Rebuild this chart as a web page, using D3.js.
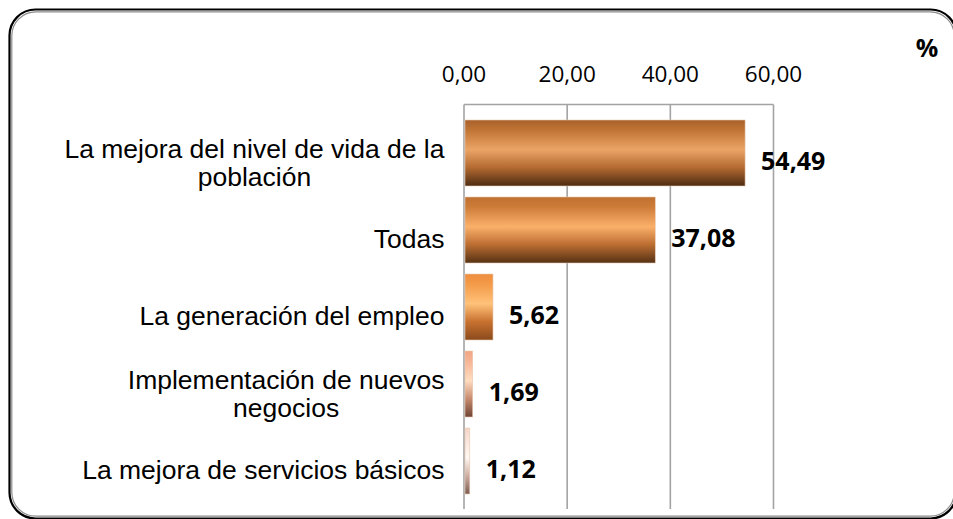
<!DOCTYPE html>
<meta charset="utf-8">
<script src="https://d3js.org/d3.v7.min.js"></script>
<style>
  body { margin: 0; background: #fff; }
</style>
<div id="chart"></div>
<script>

// data
const categories = [
  "La mejora del nivel de vida de la población",
  "Todas",
  "La generación del empleo",
  "Implementación de nuevos negocios",
  "La mejora de servicios básicos"
];
const values = [54.49, 37.08, 5.62, 1.69, 1.12];
const tickValues = [0, 20, 40, 60];
const unitLabel = "%";

// gradient stops for each bar (top -> bottom)
const barColors = [
  ["#a9602b", "#c07434", "#eba466", "#b46a31", "#4d2c12"],
  ["#c07030", "#cd7c38", "#fbb06a", "#bc6e32", "#553114"],
  ["#ee8e3e", "#f39a48", "#ffc27a", "#c97230", "#8a4a1c"],
  ["#f2a684", "#f6b494", "#ffdcc0", "#c88c70", "#6e4434"],
  ["#f6d6ca", "#f9e2d8", "#fff8f2", "#d0b0a4", "#7a5c50"]
];
const stopOffsets = [0, 0.15, 0.45, 0.72, 1];

const W = 953, H = 519;
const fmt = v => v.toFixed(2).replace(".", ",");

const svg = d3.select("#chart").append("svg")
    .attr("width", W)
    .attr("height", H);

// rounded double frame
svg.append("rect")
    .attr("x", 9.5).attr("y", 9.5)
    .attr("width", 947).attr("height", 509)
    .attr("rx", 26)
    .attr("fill", "none")
    .attr("stroke", "#000")
    .attr("stroke-width", 2.2);
svg.append("rect")
    .attr("x", 11.8).attr("y", 11.8)
    .attr("width", 942.4).attr("height", 504.4)
    .attr("rx", 24)
    .attr("fill", "none")
    .attr("stroke", "#8a8a8a")
    .attr("stroke-width", 1.2);

const x = d3.scaleLinear()
    .domain([0, 60])
    .range([464, 773.5]);

const y = d3.scaleBand()
    .domain(categories)
    .range([114.5, 499.5])
    .paddingInner(0.143)
    .paddingOuter(0.0715);

const plotTop = 104.5, plotBottom = 509;

// gradients
const defs = svg.append("defs");
barColors.forEach((cols, i) => {
  const g = defs.append("linearGradient")
      .attr("id", "grad" + i)
      .attr("x1", 0).attr("y1", 0).attr("x2", 0).attr("y2", 1);
  cols.forEach((c, j) => {
    g.append("stop").attr("offset", stopOffsets[j]).attr("stop-color", c);
  });
});

// gridlines
svg.append("g")
  .selectAll("line")
  .data(tickValues)
  .join("line")
    .attr("x1", d => x(d)).attr("x2", d => x(d))
    .attr("y1", plotTop).attr("y2", plotBottom)
    .attr("stroke", "#a3a3a3")
    .attr("stroke-width", 1.6);

// top axis line
svg.append("line")
    .attr("x1", x(0)).attr("x2", x(60))
    .attr("y1", plotTop).attr("y2", plotTop)
    .attr("stroke", "#a3a3a3")
    .attr("stroke-width", 1.6);

// tick labels
svg.append("g")
  .selectAll("text")
  .data(tickValues)
  .join("text")
    .attr("x", d => x(d))
    .attr("y", 82)
    .attr("text-anchor", "middle")
    .style("font-family", "'Open Sans', sans-serif")
    .style("font-size", "22.5px")
    .attr("fill", "#000")
    .text(d => fmt(d));

// bars
svg.append("g")
  .selectAll("rect")
  .data(values)
  .join("rect")
    .attr("x", x(0) + 1)
    .attr("y", (d, i) => y(categories[i]))
    .attr("width", d => x(d) - x(0) - 1)
    .attr("height", y.bandwidth())
    .attr("fill", (d, i) => "url(#grad" + i + ")")
    .attr("stroke", "#e8c8b0")
    .attr("stroke-width", 0.6);

// value labels
svg.append("g")
  .selectAll("text")
  .data(values)
  .join("text")
    .attr("x", d => x(d) + 16)
    .attr("y", (d, i) => y(categories[i]) + y.bandwidth() / 2 + 16.5)
    .style("font-family", "'Open Sans', sans-serif")
    .style("font-weight", "bold")
    .style("font-size", "25px")
    .attr("fill", "#000")
    .text(d => fmt(d));

// category labels, wrapped
const labelRight = 444.5, wrapWidth = 392, lineH = 28;
const catG = svg.append("g")
    .style("font-family", "'Liberation Sans', Arial, sans-serif")
    .style("font-size", "26.5px")
    .attr("fill", "#000");

categories.forEach(cat => {
  const c = y(cat) + y.bandwidth() / 2;
  // split words into lines
  const probe = catG.append("text");
  const words = cat.split(" ");
  const lines = [];
  let line = [];
  words.forEach(w => {
    line.push(w);
    probe.text(line.join(" "));
    if (probe.node().getComputedTextLength() > wrapWidth && line.length > 1) {
      line.pop();
      lines.push(line.join(" "));
      line = [w];
    }
  });
  lines.push(line.join(" "));
  const widths = lines.map(l => { probe.text(l); return probe.node().getComputedTextLength(); });
  probe.remove();
  const maxW = d3.max(widths);
  const cx = labelRight - maxW / 2;
  const base0 = lines.length === 1 ? c + 18.3 : c + 4.5;
  const t = catG.append("text")
      .attr("text-anchor", "middle");
  lines.forEach((l, k) => {
    t.append("tspan")
        .attr("x", cx)
        .attr("y", base0 + k * lineH)
        .text(l);
  });
});

// unit label
svg.append("text")
    .attr("x", 927)
    .attr("y", 57)
    .attr("text-anchor", "middle")
    .style("font-family", "'Open Sans', sans-serif")
    .style("font-weight", "bold")
    .style("font-size", "25px")
    .text(unitLabel);

</script>
